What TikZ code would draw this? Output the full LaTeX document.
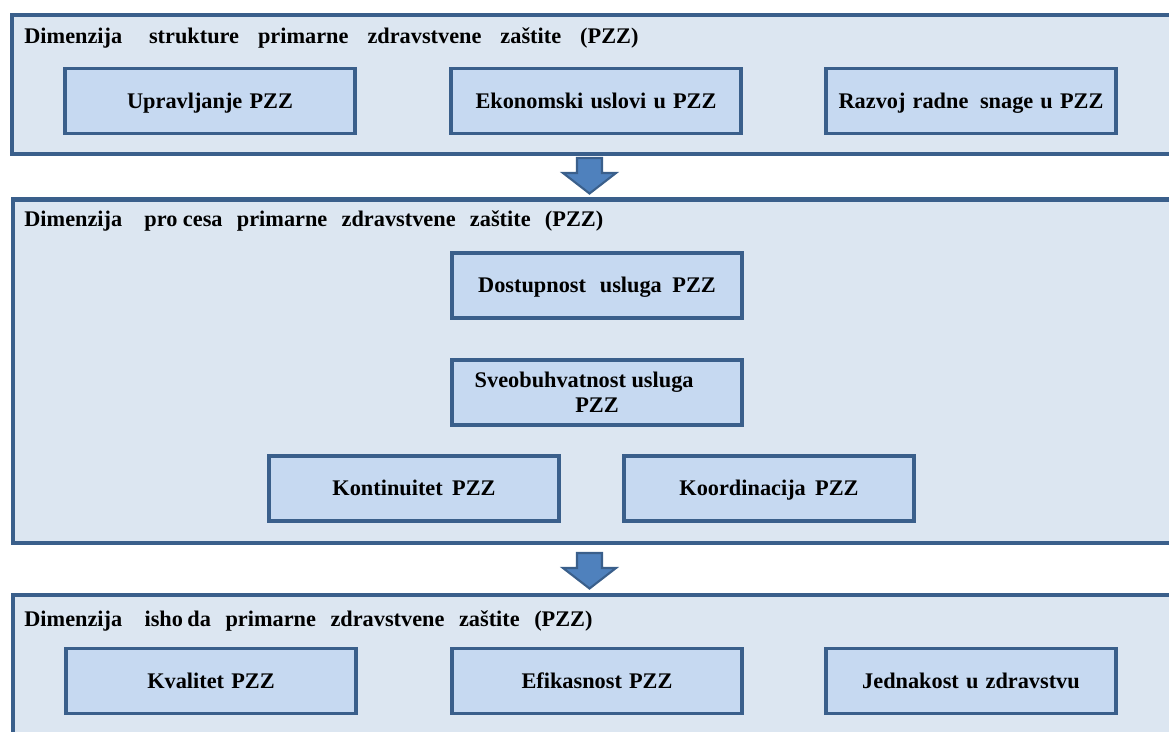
\documentclass[tikz,border=0pt]{standalone}
\usepackage{fontspec}
\setmainfont{Liberation Serif}
\usetikzlibrary{positioning}

\definecolor{pzzline}{HTML}{3A5F8B}
\definecolor{pzzpanel}{HTML}{DCE6F1}
\definecolor{pzzcell}{HTML}{C6D9F1}
\definecolor{pzzarrow}{HTML}{4F81BD}

\newcommand{\cellfont}{\bfseries\fontsize{12.7}{14.2}\selectfont\spaceskip=0.32em\relax}
\newcommand{\headfont}[1]{\bfseries\fontsize{12.7}{14.2}\selectfont\spaceskip=#1em\relax}

\tikzset{
 panel/.style={draw=pzzline,line width=2.3pt,fill=pzzpanel},
 cell/.style={draw=pzzline,line width=2.2pt,fill=pzzcell,minimum width=5.8cm,minimum height=1.3cm,
   inner sep=0pt,text height=11pt,text depth=2.6pt,align=center,font=\cellfont},
 heading/.style={anchor=base west,inner sep=0pt,font=\headfont{#1}},
 downarrow/.style={draw=pzzline,line width=1.2pt,fill=pzzarrow,line join=miter}
}

\begin{document}
\begin{tikzpicture}[x=0.02cm,y=-0.02cm]
 \useasboundingbox (0,0) rectangle (1169,731);
 \clip (0,0) rectangle (1169,731);

 % struktura
 \draw[panel] (12,15) rectangle (1190,154);
 \node[heading=0.85] (h1) at (24,43) {Dimenzija\hspace{.35em} strukture primarne zdravstvene zaštite (PZZ)};
 \node[cell] (upravljanje) at (210,101) {Upravljanje PZZ};
 \node[cell] (ekonomski) at (596,101) {Ekonomski uslovi u PZZ};
 \node[cell] (razvoj) at (971,101) {Razvoj radne\hspace{.2em} snage u PZZ};

 % proces
 \draw[panel] (13,199.5) rectangle (1190,543);
 \node[heading=0.64] (h2) at (24,226) {Dimenzija\hspace{.35em} pro\hspace{.25em}cesa primarne zdravstvene zaštite (PZZ)};
 \node[cell] (dostupnost) at (597,285.5) {Dostupnost\hspace{.3em} usluga\hspace{.15em} PZZ};
 \node[cell,text height=,text depth=] (sveobuhvatnost) at (597,392.5)
   {Sveobuhvatnost\hspace{.25em}usluga\hspace*{1.15em}\\PZZ};
 \node[cell] (kontinuitet) at (414,488.5) {Kontinuitet\hspace{.1em} PZZ};
 \node[cell] (koordinacija) at (769,488.5) {Koordinacija\hspace{.1em} PZZ};

 % ishod
 \draw[panel] (13,595) rectangle (1190,780);
 \node[heading=0.65] (h3) at (24,626) {Dimenzija\hspace{.35em} isho\hspace{.2em}da primarne zdravstvene zaštite (PZZ)};
 \node[cell] (kvalitet) at (211,681) {Kvalitet PZZ};
 \node[cell] (efikasnost) at (597,681) {Efikasnost PZZ};
 \node[cell] (jednakost) at (971,681) {Jednakost u zdravstvu};

 % strelice
 \foreach \t in {158,553}
  \draw[downarrow] (577,\t) -- (602,\t) -- (602,\t+15) -- (616,\t+15) -- (589.5,\t+35.5)
   -- (563,\t+15) -- (577,\t+15) -- cycle;
\end{tikzpicture}
\end{document}
